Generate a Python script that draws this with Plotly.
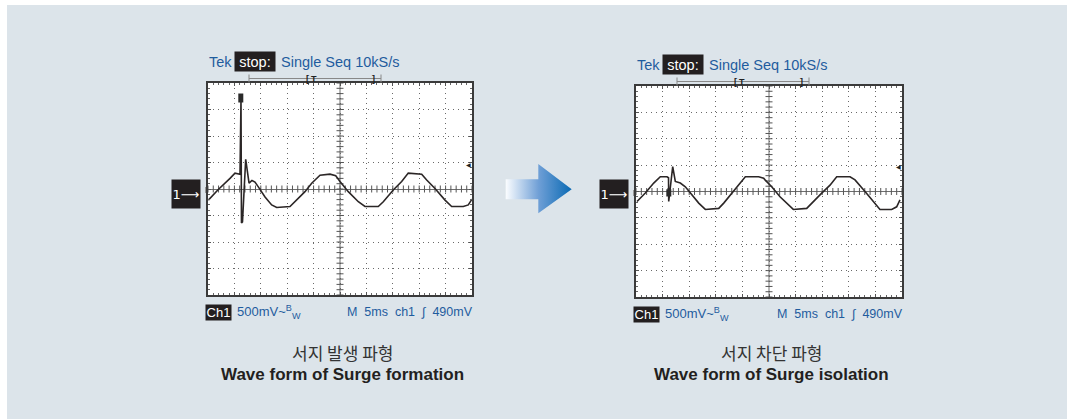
import plotly.graph_objects as go

W, H = 1072, 419

# scope readings: time in ms (5 ms/div), voltage in V (500 mV/div)
formation_t = [0.06, 1.95, 4.17, 5.11, 6.06, 6.25, 6.34, 6.53, 7.14, 7.63, 7.77, 8.33, 8.90, 9.53,
               10.80, 12.06, 13.01, 15.53, 16.48, 18.37, 19.64, 21.21, 23.11, 24.19, 25.00, 26.57,
               28.47, 29.73, 32.25, 33.20, 35.09, 36.68, 37.93, 40.47, 41.42, 42.99, 44.89, 46.15,
               48.35, 49.30, 50.00]
formation_v = [-0.21, -0.01, 0.20, 0.30, 0.28, 1.70, -0.64, -0.62, 0.56, 0.17, 0.11, 0.16, 0.13, 0.04,
               -0.15, -0.30, -0.35, -0.33, -0.24, -0.05, 0.11, 0.26, 0.28, 0.25, 0.14, -0.05,
               -0.24, -0.33, -0.33, -0.24, -0.02, 0.14, 0.30, 0.28, 0.17, 0.01, -0.21, -0.33,
               -0.33, -0.30, -0.19]

isolation_t = [0.19, 1.75, 3.33, 4.57, 5.83, 6.11, 6.15, 6.30, 6.90, 7.39, 8.33, 9.27, 10.21, 11.79,
               13.03, 15.55, 16.49, 18.05, 19.30, 20.55, 23.06, 24.00, 24.25, 25.51, 27.07, 28.63,
               29.57, 32.09, 33.03, 34.91, 36.47, 37.73, 40.23, 41.17, 43.05, 44.62, 45.86, 48.06,
               49.00, 49.62]
isolation_v = [-0.19, -0.03, 0.16, 0.28, 0.28, 0.26, -0.19, -0.07, 0.47, 0.19, 0.16, 0.09, -0.03, -0.22,
               -0.34, -0.32, -0.22, -0.03, 0.12, 0.28, 0.28, 0.25, 0.22, 0.09, -0.10, -0.26,
               -0.34, -0.32, -0.22, -0.03, 0.12, 0.28, 0.28, 0.22, 0.00, -0.19, -0.34, -0.34,
               -0.29, -0.16]

captions_ko = ["서지 발생 파형", "서지 차단 파형"]
captions_en = ["Wave form of Surge formation", "Wave form of Surge isolation"]
header = "Single Seq 10kS/s"
footer_left = "500mV~<sup>B</sup><sub>W</sub>"
footer_right = "M\u00a0\u00a05ms\u00a0\u00a0ch1\u00a0\u00a0\u222b\u00a0\u00a0490mV"

BLUE = "#1f5c9e"
FONT = "Liberation Sans, Arial, DejaVu Sans"


def px(x):
    return x / W


def py(y):
    return 1 - y / H


fig = go.Figure()
shapes = []
ann = []

# background panel
shapes.append(dict(type="rect", xref="paper", yref="paper", x0=px(7), x1=px(1067), y0=0, y1=py(5),
                   fillcolor="#dce4ea", line=dict(width=0), layer="below"))

scopes = [
    dict(box=(208, 83, 472, 295), t=formation_t, v=formation_v, ax=""),
    dict(box=(636, 86, 902, 297), t=isolation_t, v=isolation_v, ax="2"),
]

for i, sc in enumerate(scopes):
    x0, y0, x1, y1 = sc["box"]
    ax = sc["ax"]
    xr, yr = "x" + ax, "y" + ax
    common = dict(showgrid=True, griddash="1px,4px", gridcolor="#6a6a6a", gridwidth=1,
                  showline=True, mirror="ticks", linecolor="#3a3a3a", linewidth=1.5,
                  ticks="inside", ticklen=3, tickcolor="#555", showticklabels=False,
                  fixedrange=True)
    fig.update_layout({
        "xaxis" + ax: dict(domain=[px(x0), px(x1)], range=[0, 50], dtick=5, zeroline=False,
                           anchor=yr, minor=dict(dtick=1, ticks="inside", ticklen=2, tickcolor="#666"),
                           **common),
        "yaxis" + ax: dict(domain=[py(y1), py(y0)], range=[-2, 2], dtick=0.5, zeroline=True,
                           zerolinecolor="#6e6e6e", zerolinewidth=1, anchor=xr,
                           minor=dict(dtick=0.1, ticks="inside", ticklen=2, tickcolor="#666"),
                           **common),
    })
    shapes.append(dict(type="rect", xref=xr + " domain", yref=yr + " domain", x0=0, x1=1, y0=0, y1=1,
                       fillcolor="white", line=dict(width=0), layer="below"))
    shapes.append(dict(type="line", xref=xr, yref=yr + " domain", x0=25, x1=25, y0=0, y1=1,
                       line=dict(color="#6e6e6e", width=1), layer="below"))

    # graticule ticks on the centre lines
    fig.add_trace(go.Scatter(x=list(range(51)), y=[0] * 51, xaxis=xr, yaxis=yr, mode="markers",
                             marker=dict(symbol="line-ns", size=5, line=dict(width=1, color="#555")),
                             hoverinfo="skip", showlegend=False))
    fig.add_trace(go.Scatter(x=[25] * 41, y=[k / 10 for k in range(-20, 21)], xaxis=xr, yaxis=yr,
                             mode="markers",
                             marker=dict(symbol="line-ew", size=5, line=dict(width=1, color="#555")),
                             hoverinfo="skip", showlegend=False))
    fig.add_trace(go.Scatter(x=sc["t"], y=sc["v"], xaxis=xr, yaxis=yr, mode="lines",
                             line=dict(color="#2b2626", width=1.6), hoverinfo="skip", showlegend=False))

    hy = y0 - 21.5
    # header
    ann.append(dict(x=px(x0 - 1), y=py(hy), text="Tek", xanchor="left", yanchor="middle",
                    font=dict(family=FONT, size=14.5, color=BLUE)))
    ann.append(dict(x=px(x0 + 26), y=py(hy), text="stop:", xanchor="left", yanchor="middle",
                    bgcolor="#231f20", width=40, height=19, borderpad=0,
                    font=dict(family=FONT, size=14.5, color="white")))
    ann.append(dict(x=px(x0 + 71), y=py(hy), text=header, xanchor="left", yanchor="middle",
                    font=dict(family=FONT, size=14.5, color=BLUE)))
    # record-window bar
    by = y0 - 4.5
    bl, br = x0 + 41, x0 + 173
    shapes.append(dict(type="line", xref="paper", yref="paper", x0=px(bl), x1=px(br), y0=py(by), y1=py(by),
                       line=dict(color="#888", width=1)))
    for bx in (bl, br):
        shapes.append(dict(type="line", xref="paper", yref="paper", x0=px(bx), x1=px(bx),
                           y0=py(by - 4), y1=py(by + 4), line=dict(color="#888", width=1)))
    for txt, bx in (("[", x0 + 99), ("T", x0 + 106), ("]", x0 + 165)):
        ann.append(dict(x=px(bx), y=py(by), text="<b>%s</b>" % txt, xanchor="center", yanchor="middle",
                        font=dict(family=FONT, size=9, color="#222")))
    # channel marker
    ann.append(dict(x=px(x0 - 22), y=py(194), text="1\u27f6", xanchor="center", yanchor="middle",
                    bgcolor="#231f20", width=28, height=28, borderpad=0,
                    font=dict(family="DejaVu Sans", size=13, color="white")))
    shapes.append(dict(type="line", xref="paper", yref="paper", x0=px(x0 - 2.5), x1=px(x0 - 2.5),
                       y0=py(y0 + 104), y1=py(y0 + 110), line=dict(color="#999", width=1)))
    # trigger level arrow
    ann.append(dict(x=px(x1 - 4), y=py(y0 + 81), text="\u25c0", xanchor="center", yanchor="middle",
                    font=dict(family="DejaVu Sans", size=6, color="#222")))
    # footer
    fy = y1 + 17
    ann.append(dict(x=px(x0 + 10.5), y=py(fy), text="Ch1", xanchor="center", yanchor="middle",
                    bgcolor="#231f20", width=25, height=15, borderpad=0,
                    font=dict(family=FONT, size=13, color="white")))
    ann.append(dict(x=px(x0 + 27), y=py(fy), text=footer_left, xanchor="left", yanchor="middle",
                    font=dict(family=FONT, size=13, color=BLUE)))
    ann.append(dict(x=px(x1 + 3), y=py(fy), text=footer_right, xanchor="right", yanchor="middle",
                    font=dict(family=FONT, size=12.5, color=BLUE)))
    # captions
    cx = (x0 + x1) / 2 + 2
    ann.append(dict(x=px(cx), y=py(352), text=captions_ko[i], xanchor="center", yanchor="middle",
                    font=dict(family="Noto Sans CJK KR", size=17, color="#333")))
    ann.append(dict(x=px(cx), y=py(374), text="<b>%s</b>" % captions_en[i], xanchor="center",
                    yanchor="middle", font=dict(family=FONT, size=17, color="#231f20")))

# trigger point markers
shapes.append(dict(type="rect", xref="paper", yref="paper", x0=px(238.3), x1=px(243.3), y0=py(102.5),
                   y1=py(93.5), fillcolor="#2a2a2a", line=dict(width=0)))
shapes.append(dict(type="rect", xref="paper", yref="paper", x0=px(666.3), x1=px(671.3), y0=py(196.5),
                   y1=py(189.3), fillcolor="#2a2a2a", line=dict(width=0)))

# gradient arrow between the two scopes
arrow_x = [505.7, 538.3, 538.3, 571.7, 538.3, 538.3, 505.7, 505.7]
arrow_y = [179.3, 179.3, 164, 189.3, 213.3, 199.3, 199.3, 179.3]
fig.add_trace(go.Scatter(x=arrow_x, y=arrow_y, xaxis="x3", yaxis="y3", mode="lines", fill="toself",
                         line=dict(width=0),
                         fillgradient=dict(type="horizontal",
                                           colorscale=[[0, "#fbfdff"], [0.5, "#6f9fd6"], [1, "#0a6ab4"]]),
                         hoverinfo="skip", showlegend=False))
fig.update_layout(
    xaxis3=dict(domain=[px(500), px(576)], range=[500, 576], visible=False, anchor="y3", fixedrange=True),
    yaxis3=dict(domain=[py(216), py(160)], range=[216, 160], visible=False, anchor="x3", fixedrange=True),
)

fig.update_layout(
    width=W, height=H, autosize=False,
    margin=dict(l=0, r=0, t=0, b=0),
    paper_bgcolor="white", plot_bgcolor="rgba(0,0,0,0)",
    shapes=shapes, annotations=[dict(a, xref="paper", yref="paper", showarrow=False) for a in ann],
    hovermode=False, showlegend=False,
)

fig.write_html("out.html", config={"displayModeBar": False},
               post_script="document.body.style.margin = '0';")
